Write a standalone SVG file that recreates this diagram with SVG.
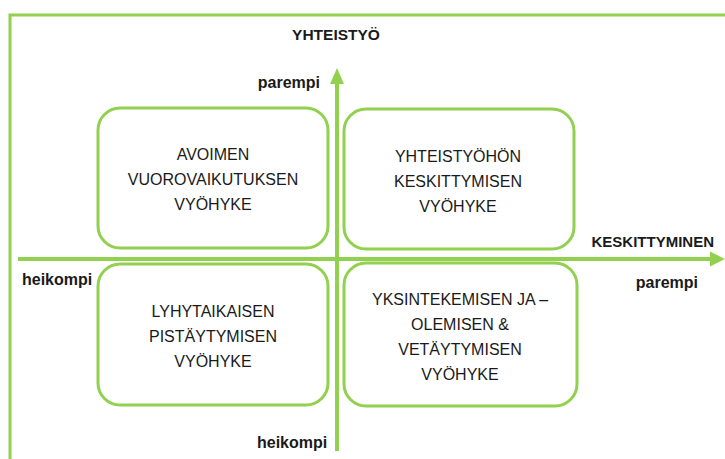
<svg xmlns="http://www.w3.org/2000/svg" width="725" height="459" viewBox="0 0 725 459">
<style>
.frame{fill:none;stroke:#92d050;stroke-width:3}
.box{fill:#ffffff;stroke:#92d050;stroke-width:3}
.axis{stroke:#92d050;stroke-width:4;fill:none}
.head{fill:#92d050}
.t{font-family:"Liberation Sans",Arial,sans-serif;font-size:16px;fill:#1a1a1a;text-anchor:middle}
.lb{font-family:"Liberation Sans",Arial,sans-serif;font-weight:bold;fill:#1a1a1a}
</style>
<rect width="725" height="459" fill="#ffffff"/>
<rect class="frame" x="10" y="15" width="800" height="500"/>
<g id="connectors">
<line class="axis" x1="18" y1="259" x2="712" y2="259"/>
<polygon class="head" points="710,251.5 725,259 710,266.5"/>
<line class="axis" x1="337" y1="451" x2="337" y2="82"/>
<polygon class="head" points="330,84 337,68 344,84"/>
</g>
<g id="box-avoimen">
<rect class="box" x="98" y="108" width="230" height="140" rx="22"/>
<text class="t" x="213" y="160">AVOIMEN</text>
<text class="t" x="213" y="185">VUOROVAIKUTUKSEN</text>
<text class="t" x="213" y="210">VYÖHYKE</text>
</g>
<g id="box-yhteistyohon">
<rect class="box" x="344" y="109" width="230" height="140" rx="22"/>
<text class="t" x="458" y="162">YHTEISTYÖHÖN</text>
<text class="t" x="458" y="187">KESKITTYMISEN</text>
<text class="t" x="458" y="212">VYÖHYKE</text>
</g>
<g id="box-lyhytaikaisen">
<rect class="box" x="98" y="264" width="230" height="141" rx="22"/>
<text class="t" x="213" y="317">LYHYTAIKAISEN</text>
<text class="t" x="213" y="342">PISTÄYTYMISEN</text>
<text class="t" x="213" y="367">VYÖHYKE</text>
</g>
<g id="box-yksintekemisen">
<rect class="box" x="344" y="263" width="233" height="143" rx="22"/>
<text class="t" x="460" y="305">YKSINTEKEMISEN JA –</text>
<text class="t" x="460" y="330">OLEMISEN &amp;</text>
<text class="t" x="460" y="355">VETÄYTYMISEN</text>
<text class="t" x="460" y="380">VYÖHYKE</text>
</g>
<g id="labels">
<text class="lb" x="336" y="40" font-size="15.5" text-anchor="middle">YHTEISTYÖ</text>
<text class="lb" x="320" y="88" font-size="16" text-anchor="end">parempi</text>
<text class="lb" x="714" y="247" font-size="15" text-anchor="end">KESKITTYMINEN</text>
<text class="lb" x="22" y="285" font-size="16">heikompi</text>
<text class="lb" x="698" y="288" font-size="16" text-anchor="end">parempi</text>
<text class="lb" x="257" y="448" font-size="16">heikompi</text>
</g>
</svg>
